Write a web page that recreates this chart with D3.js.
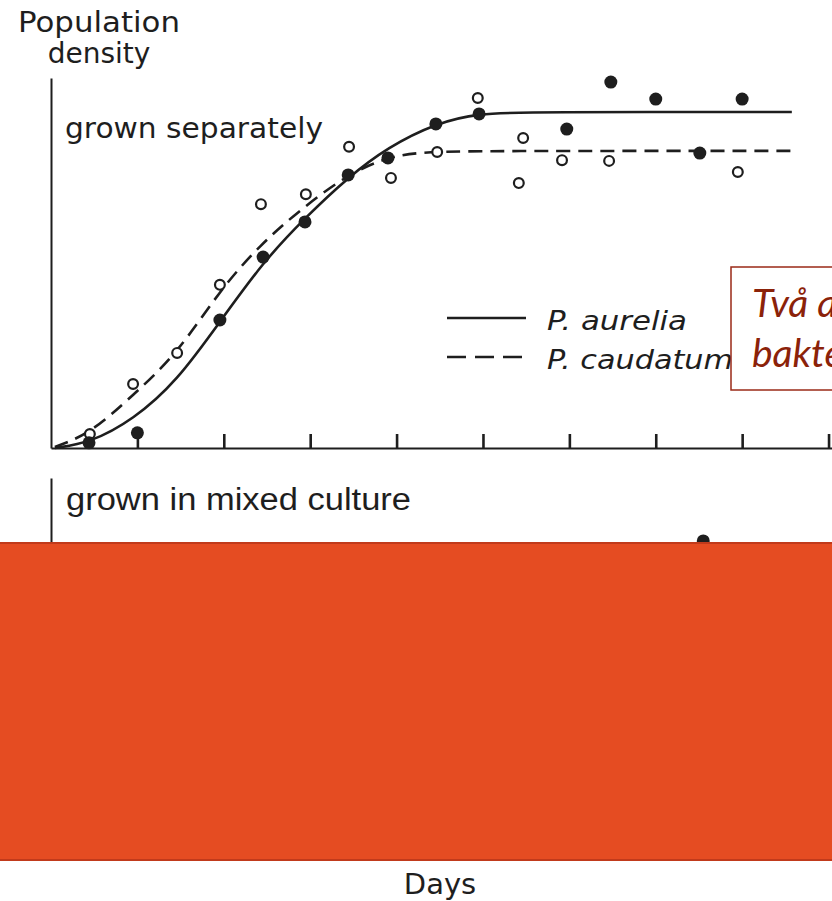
<!DOCTYPE html>
<html>
<head>
<meta charset="utf-8">
<script src="https://cdn.jsdelivr.net/npm/d3@7"></script>
<style>
  body { margin: 0; background: #fff; }
  svg { display: block; }
</style>
</head>
<body>
<div id="chart"></div>
<script>
// P. aurelia (filled dots), grown separately
const aureliaDays = [0.88, 2.0, 3.91, 4.91, 5.88, 6.88, 7.8, 8.91, 9.91, 11.94, 12.96, 14.0, 15.02, 16.0];
const aureliaDensity = [1.4, 4.1, 34.6, 51.6, 61.1, 73.8, 78.4, 87.6, 90.3, 86.2, 98.9, 94.3, 79.7, 94.3];

// P. caudatum (open circles), grown separately
const caudatumDays = [0.9, 1.9, 2.92, 3.91, 4.86, 5.9, 6.9, 7.87, 8.94, 9.88, 10.93, 10.83, 11.83, 12.92, 15.9];
const caudatumDensity = [3.8, 17.3, 25.7, 44.1, 65.9, 68.6, 81.4, 73.0, 80.0, 94.6, 83.8, 71.6, 77.8, 77.6, 74.6];

// fitted curves
const aureliaCurveDays = [0.09, 0.9, 1.9, 2.92, 3.91, 4.91, 5.88, 6.88, 7.8, 8.91, 9.91, 11.1, 17.15];
const aureliaCurveDensity = [0, 1.4, 7.6, 18.1, 34.1, 50.3, 62.2, 73.2, 81.3, 87.8, 90.5, 90.8, 90.8];
const caudatumCurveDays = [0.09, 0.9, 1.9, 2.92, 3.91, 4.84, 5.76, 6.88, 7.8, 8.54, 9.9, 17.15];
const caudatumCurveDensity = [0.3, 3.8, 14.3, 25.4, 42.7, 54.9, 64.3, 74.1, 78.6, 80.0, 80.3, 80.3];

// mixed culture (mostly hidden)
const mixedDays = [15.1];
const mixedDensity = [83];

const tickDays = [2, 4, 6, 8, 10, 12, 14, 16, 18];
const legendLabels = ["P. aurelia", "P. caudatum"];
const legendWidths = [140, 186];
const panelTitles = ["grown separately", "grown in mixed culture"];
const noteLines = ["Två arter som äter", "bakterier"];

const width = 832, height = 901;
const ink = "#1e1e1e";

const svg = d3.select("#chart")
    .append("svg")
    .attr("width", width)
    .attr("height", height);

const x = d3.scaleLinear().domain([0, 18.08]).range([51, 832]);
const yTop = d3.scaleLinear().domain([0, 100]).range([448, 78]);
const yMix = d3.scaleLinear().domain([0, 100]).range([848, 478]);

// axes
const xAxis = svg.append("g")
    .attr("transform", `translate(0,${yTop(0)})`)
    .call(d3.axisBottom(x).tickValues(tickDays).tickSize(-14).tickSizeOuter(0).tickFormat(""));
xAxis.select(".domain").attr("stroke", ink).attr("stroke-width", 2.2);
xAxis.selectAll(".tick line").attr("stroke", ink).attr("stroke-width", 2.6);

const yAxis = svg.append("g")
    .attr("transform", `translate(${x(0)},0)`)
    .call(d3.axisLeft(yTop).tickValues([]).tickSizeOuter(0));
yAxis.select(".domain").attr("stroke", ink).attr("stroke-width", 2);

const yAxisMix = svg.append("g")
    .attr("transform", `translate(${x(0)},0)`)
    .call(d3.axisLeft(yMix).tickValues([]).tickSizeOuter(0));
yAxisMix.select(".domain").attr("stroke", ink).attr("stroke-width", 2);

// curves
const line = d3.line()
    .x(d => x(d[0]))
    .y(d => yTop(d[1]))
    .curve(d3.curveBasis);

svg.append("path")
    .datum(d3.zip(aureliaCurveDays, aureliaCurveDensity))
    .attr("d", line)
    .attr("fill", "none")
    .attr("stroke", ink)
    .attr("stroke-width", 2.6);

svg.append("path")
    .datum(d3.zip(caudatumCurveDays, caudatumCurveDensity))
    .attr("d", line)
    .attr("fill", "none")
    .attr("stroke", ink)
    .attr("stroke-width", 2.6)
    .attr("stroke-dasharray", "14,8");

// points
svg.selectAll(".open")
    .data(d3.zip(caudatumDays, caudatumDensity))
    .enter().append("circle")
    .attr("class", "open")
    .attr("cx", d => x(d[0]))
    .attr("cy", d => yTop(d[1]))
    .attr("r", 4.9)
    .attr("fill", "#fff")
    .attr("stroke", ink)
    .attr("stroke-width", 2.2);

svg.selectAll(".filled")
    .data(d3.zip(aureliaDays, aureliaDensity))
    .enter().append("circle")
    .attr("class", "filled")
    .attr("cx", d => x(d[0]))
    .attr("cy", d => yTop(d[1]))
    .attr("r", 6.5)
    .attr("fill", ink);

svg.selectAll(".mixed")
    .data(d3.zip(mixedDays, mixedDensity))
    .enter().append("circle")
    .attr("class", "mixed")
    .attr("cx", d => x(d[0]))
    .attr("cy", d => yMix(d[1]))
    .attr("r", 6.5)
    .attr("fill", ink);

// y label
svg.append("text")
    .attr("x", 99).attr("y", 32)
    .attr("text-anchor", "middle")
    .attr("font-family", "DejaVu Sans")
    .attr("font-size", 28)
    .attr("fill", ink)
    .attr("textLength", 162)
    .attr("lengthAdjust", "spacingAndGlyphs")
    .text("Population");
svg.append("text")
    .attr("x", 99).attr("y", 63)
    .attr("text-anchor", "middle")
    .attr("font-family", "DejaVu Sans")
    .attr("font-size", 28)
    .attr("fill", ink)
    .text("density");

svg.append("text")
    .attr("x", 65).attr("y", 138)
    .attr("font-family", "DejaVu Sans")
    .attr("font-size", 29)
    .attr("fill", ink)
    .attr("textLength", 258)
    .attr("lengthAdjust", "spacingAndGlyphs")
    .text(panelTitles[0]);

svg.append("text")
    .attr("x", 66).attr("y", 510)
    .attr("font-family", "Liberation Sans")
    .attr("font-size", 31)
    .attr("fill", ink)
    .attr("textLength", 345)
    .attr("lengthAdjust", "spacingAndGlyphs")
    .text(panelTitles[1]);

// legend
const legend = svg.append("g");
legendLabels.forEach((label, i) => {
    const ly = 318 + i * 39;
    legend.append("line")
        .attr("x1", 447).attr("x2", 526)
        .attr("y1", ly).attr("y2", ly)
        .attr("stroke", ink)
        .attr("stroke-width", 2.4)
        .attr("stroke-dasharray", i === 0 ? null : "19,9");
    legend.append("text")
        .attr("x", 547).attr("y", ly + 12)
        .attr("font-family", "DejaVu Sans")
        .attr("font-style", "italic")
        .attr("font-size", 26)
        .attr("fill", ink)
        .attr("textLength", legendWidths[i])
        .attr("lengthAdjust", "spacingAndGlyphs")
        .text(label);
});

// note box
svg.append("rect")
    .attr("x", 731).attr("y", 267)
    .attr("width", 140).attr("height", 123)
    .attr("fill", "#fff")
    .attr("stroke", "#9a2a17")
    .attr("stroke-width", 1.5);

const note = svg.append("text")
    .attr("font-family", "Lato")
    .attr("font-style", "italic")
    .attr("font-size", 39)
    .attr("fill", "#8b2209");
noteLines.forEach((t, i) => {
    note.append("tspan").attr("x", 752).attr("y", 317 + i * 50).text(t);
});

// orange cover
svg.append("rect")
    .attr("x", -2).attr("y", 543)
    .attr("width", width + 4).attr("height", 317)
    .attr("fill", "#e54c22")
    .attr("stroke", "#c13a1b")
    .attr("stroke-width", 2);

svg.append("text")
    .attr("x", 440).attr("y", 894)
    .attr("text-anchor", "middle")
    .attr("font-family", "DejaVu Sans")
    .attr("font-size", 29)
    .attr("fill", ink)
    .text("Days");
</script>
</body>
</html>
